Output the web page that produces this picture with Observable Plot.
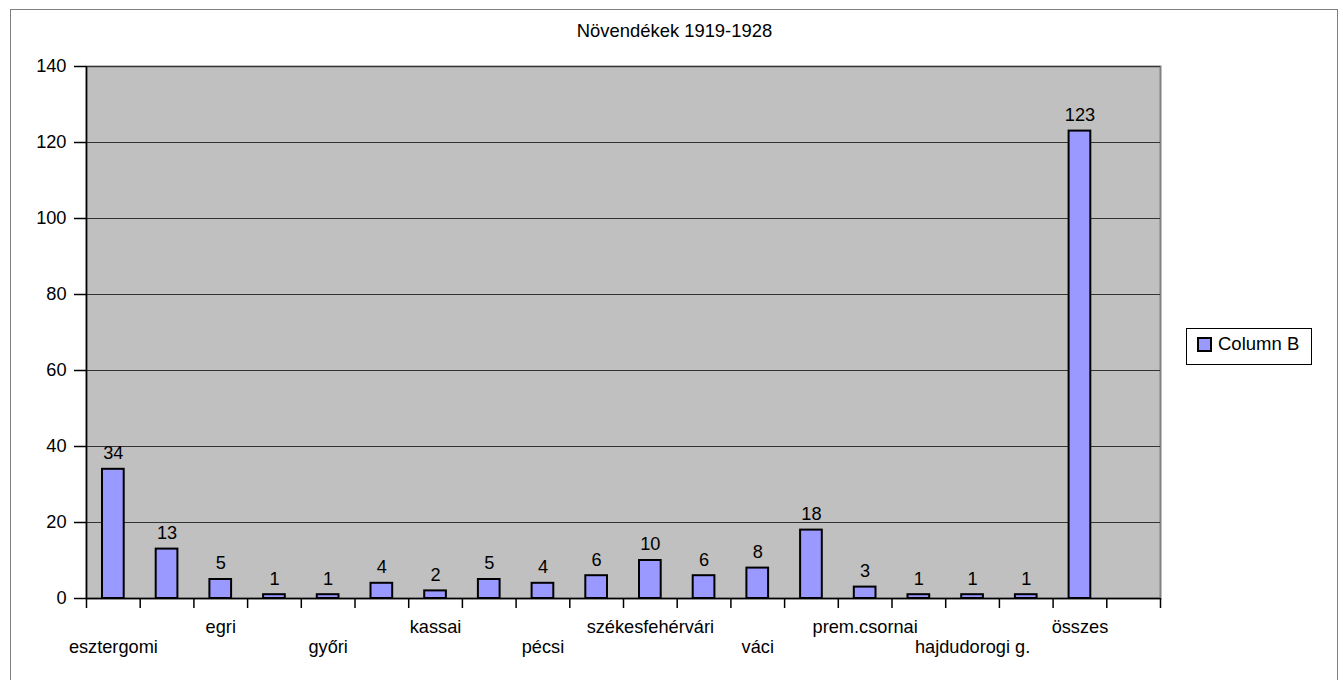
<!DOCTYPE html>
<html>
<head>
<meta charset="utf-8">
<script src="https://cdn.jsdelivr.net/npm/d3@7"></script>
<script src="https://cdn.jsdelivr.net/npm/@observablehq/plot@0.6"></script>
<style>
  body { margin: 0; background: #fff; font-family: "Liberation Sans", Arial, sans-serif; }
  #wrap { position: relative; width: 1343px; height: 680px; overflow: hidden; }
  #border { position: absolute; left: 10px; top: 9px; width: 1328px; height: 720px; border: 1px solid #808080; box-sizing: border-box; }
  #title { position: absolute; left: 0; top: 21px; width: 1349px; text-align: center; font-size: 18.4px; line-height: 20px; color: #000; }
  #legend { position: absolute; left: 1186px; top: 328px; width: 126px; height: 37px; border: 1px solid #000; box-sizing: border-box; background: #fff; }
  #legend .sw { position: absolute; left: 10px; top: 8px; width: 15px; height: 15px; box-sizing: border-box; border: 2px solid #000; background: #9999ff; }
  #legend .lb { position: absolute; left: 31px; top: 5px; font-size: 18.5px; line-height: 20px; white-space: nowrap; }
  #chart { position: absolute; left: 0; top: 0; }
</style>
</head>
<body>
<div id="wrap">
  <div id="border"></div>
  <div id="chart"></div>
  <div id="title">Növendékek 1919-1928</div>
  <div id="legend"><div class="sw"></div><div class="lb">Column B</div></div>
</div>
<script>
// Category labels (odd slots are hidden in the original because of overlap; names not readable)
const categories = ["esztergomi", "", "egri", "", "győri", "", "kassai", "", "pécsi", "",
                    "székesfehérvári", "", "váci", "", "prem.csornai", "", "hajdudorogi g.", "", "összes", ""];
// Column B values (last slot is empty)
const values = [34, 13, 5, 1, 1, 4, 2, 5, 4, 6, 10, 6, 8, 18, 3, 1, 1, 1, 123];
const yTicks = [0, 20, 40, 60, 80, 100, 120, 140];
const seriesName = "Column B";

const data = values.map((v, i) => ({i, v, name: categories[i]}));
const n = categories.length;
const upperSlots = d3.range(2, n, 4);   // egri, kassai, székesfehérvári, prem.csornai, összes
const lowerSlots = d3.range(0, n, 4);   // esztergomi, győri, pécsi, váci, hajdudorogi g.

const fs = 18.2;
const chart = Plot.plot({
  width: 1343,
  height: 680,
  marginTop: 66,
  marginLeft: 86,
  marginRight: 183,
  marginBottom: 82,
  style: {fontFamily: "Liberation Sans, Arial, sans-serif", fontSize: fs + "px", background: "transparent", color: "#000"},
  x: {type: "linear", domain: [0, n]},
  y: {domain: [0, 140]},
  marks: [
    Plot.frame({fill: "#c0c0c0", stroke: "#808080", strokeWidth: 2}),
    Plot.ruleY(yTicks, {stroke: "#333", strokeWidth: 1.2}),
    Plot.ruleX([0], {stroke: "#000", strokeWidth: 1.5}),
    Plot.axisY({ticks: yTicks, tickSize: 12, tickPadding: 8, label: null, fontSize: fs, strokeWidth: 1.5}),
    Plot.axisX({ticks: d3.range(0, n + 1), tickSize: 10, tickFormat: () => "", label: null, strokeWidth: 1.5}),
    Plot.axisX({ticks: upperSlots.map(i => i + 0.5), tickSize: 0, tickPadding: 22, label: null, fontSize: fs,
                tickFormat: d => categories[Math.floor(d)]}),
    Plot.axisX({ticks: lowerSlots.map(i => i + 0.5), tickSize: 0, tickPadding: 42, label: null, fontSize: fs,
                tickFormat: d => categories[Math.floor(d)]}),
    Plot.rectY(data, {x1: d => d.i, x2: d => d.i + 1, y: "v", insetLeft: 16, insetRight: 16,
                      fill: "#9999ff", stroke: "#000", strokeWidth: 2}),
    Plot.ruleY([0], {stroke: "#000", strokeWidth: 1.5}),
    Plot.text(data, {x: d => d.i + 0.5, y: "v", text: d => String(d.v), dy: -16, fontSize: fs, fill: "#000"})
  ]
});
document.getElementById("chart").appendChild(chart);
</script>
</body>
</html>
